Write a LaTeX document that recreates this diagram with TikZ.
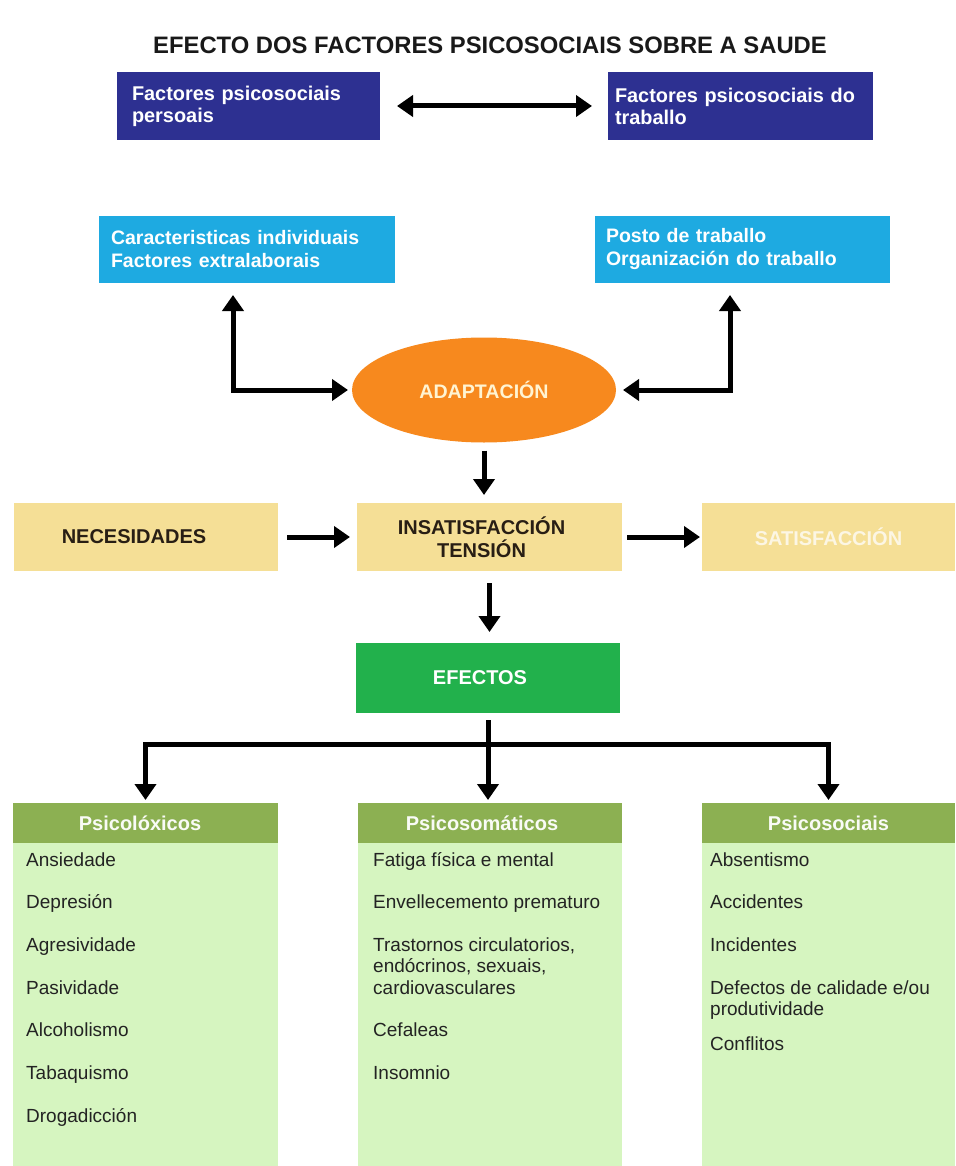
\documentclass[tikz,border=0pt]{standalone}
\usepackage{fontspec}
\setmainfont{Liberation Sans}
\usetikzlibrary{arrows.meta,shapes.geometric,calc,positioning}
\definecolor{navybox}{RGB}{45,48,145}
\definecolor{skybox}{RGB}{30,170,225}
\definecolor{orangeell}{RGB}{247,137,30}
\definecolor{sandbox}{RGB}{245,223,150}
\definecolor{greenbox}{RGB}{34,177,76}
\definecolor{olivehead}{RGB}{140,176,82}
\definecolor{mintbody}{RGB}{214,245,192}
\definecolor{darktext}{RGB}{40,30,20}
\definecolor{creamtext}{RGB}{255,244,210}
\definecolor{itemtext}{RGB}{35,35,35}
\definecolor{palesand}{RGB}{252,246,228}
\tikzset{
  fatarrow/.style={line width=5pt,-{Triangle[length=16pt,width=21pt]}},
  fatboth/.style={line width=5pt,{Triangle[length=16pt,width=21pt]}-{Triangle[length=16pt,width=21pt]}},
  titletext/.style={font=\bfseries\fontsize{23.8}{28}\selectfont,text=black!90},
  factorbox/.style={fill=navybox,text=white,font=\bfseries\fontsize{19.9}{22}\selectfont,align=left,minimum height=68pt,inner ysep=0pt,outer sep=0pt},
  detailbox/.style={fill=skybox,text=white,font=\bfseries\fontsize{19.5}{23}\selectfont,align=left,minimum height=67pt,inner ysep=0pt,outer sep=0pt},
  sandnode/.style={fill=sandbox,text=darktext,font=\bfseries\fontsize{20}{23}\selectfont,align=center,minimum height=68pt,inner sep=0pt,outer sep=0pt},
  colhead/.style={fill=olivehead,text=white!95!olivehead,font=\bfseries\fontsize{20}{24}\selectfont,minimum height=40pt,inner sep=0pt,outer sep=0pt},
  colbody/.style={fill=mintbody,minimum height=323pt,inner sep=0pt,outer sep=0pt},
  itemtext/.style={font=\fontsize{19}{22.5}\selectfont,text=itemtext,inner sep=0pt,anchor=base west}
}
\begin{document}
\begin{tikzpicture}[x=1pt,y=1pt]
\path[use as bounding box,fill=white] (0,0) rectangle (955,-1166);
\node[titletext] (title) at (490,-45) {EFECTO DOS FACTORES PSICOSOCIAIS SOBRE A SAUDE};
\node[factorbox,text width=233pt,inner xsep=15pt] (persoais) at (248.5,-106) {Factores psicosociais\\persoais};
\node[factorbox,text width=251pt,inner xsep=7pt] (traballo) at (740.5,-106) {Factores psicosociais do\\traballo};
\node[detailbox,text width=272pt,inner xsep=12pt] (indiv) at (247,-249.5) {Caracteristicas individuais\\Factores extralaborais};
\node[detailbox,text width=273pt,inner xsep=11pt] (posto) at (742.5,-249.5) {Posto de traballo\\Organización do traballo\\[-6pt]};
\node[ellipse,fill=orangeell,minimum width=264pt,minimum height=105pt,inner sep=0pt,outer sep=0pt,text=creamtext,font=\bfseries\fontsize{19.6}{24}\selectfont] (adapt) at (484,-390) {ADAPTACIÓN};
\node[sandnode,minimum width=264pt] (necesidades) at (146,-537) {NECESIDADES\kern24pt};
\node[sandnode,minimum width=265pt] (insat) at (489.5,-537) {INSATISFACCIÓN\kern16pt\\TENSIÓN\kern16pt};
\node[sandnode,minimum width=253pt,text=palesand] (satisf) at (828.5,-537) {SATISFACCIÓN};
\node[fill=greenbox,text=white,font=\bfseries\fontsize{20}{24}\selectfont,minimum width=264pt,minimum height=70pt,inner sep=0pt,outer sep=0pt] (efectos) at (488,-678) {EFECTOS\kern16pt};
\node[colhead,minimum width=265pt] (psicoloxicos) at (145.5,-823) {Psicolóxicos\kern11pt};
\node[colhead,minimum width=264pt] (psicosomaticos) at (490,-823) {Psicosomáticos\kern16pt};
\node[colhead,minimum width=253pt] (psicosociais) at (828.5,-823) {Psicosociais};
\node[colbody,minimum width=265pt,below=0pt of psicoloxicos] (loxbody) {};
\node[colbody,minimum width=264pt,below=0pt of psicosomaticos] (somabody) {};
\node[colbody,minimum width=253pt,below=0pt of psicosociais] (socbody) {};
\node[itemtext] (lox1) at (26,-866) {Ansiedade};
\node[itemtext] (lox2) at (26,-908.7) {Depresión};
\node[itemtext] (lox3) at (26,-951.4) {Agresividade};
\node[itemtext] (lox4) at (26,-994.1) {Pasividade};
\node[itemtext] (lox5) at (26,-1036.8) {Alcoholismo};
\node[itemtext] (lox6) at (26,-1079.5) {Tabaquismo};
\node[itemtext] (lox7) at (26,-1122.2) {Drogadicción};
\node[itemtext] (soma1) at (373,-866) {Fatiga física e mental};
\node[itemtext] (soma2) at (373,-908.7) {Envellecemento prematuro};
\node[itemtext] (soma3) at (373,-951.4) {Trastornos circulatorios,};
\node[itemtext] (soma3b) at (373,-972.7) {endócrinos, sexuais,};
\node[itemtext] (soma3c) at (373,-994.1) {cardiovasculares};
\node[itemtext] (soma4) at (373,-1036.8) {Cefaleas};
\node[itemtext] (soma5) at (373,-1079.5) {Insomnio};
\node[itemtext] (soc1) at (710,-866) {Absentismo};
\node[itemtext] (soc2) at (710,-908.7) {Accidentes};
\node[itemtext] (soc3) at (710,-951.4) {Incidentes};
\node[itemtext] (soc4) at (710,-994.1) {Defectos de calidade e/ou};
\node[itemtext] (soc4b) at (710,-1015.4) {produtividade};
\node[itemtext] (soc5) at (710,-1050) {Conflitos};
\draw[fatboth,shorten <=17pt,shorten >=16pt] (persoais) -- (traballo);
\draw[fatboth,shorten <=4pt,shorten >=12pt] (adapt.west) -| ($(indiv.south)+(-14,0)$);
\draw[fatboth,shorten <=7pt,shorten >=12pt] (adapt.east) -| ($(posto.south)+(-12.5,0)$);
\draw[fatarrow,shorten <=8pt,shorten >=8pt] (adapt.south) -- (adapt.south |- insat.north);
\draw[fatarrow,shorten <=9pt,shorten >=7pt] (necesidades) -- (insat);
\draw[fatarrow,shorten <=5pt,shorten >=2pt] (insat) -- (satisf);
\draw[fatarrow,shorten <=12pt,shorten >=11pt] (insat.south) -- (insat.south |- efectos.north);
\coordinate (fork) at ($(efectos.south)+(0,-31)$);
\draw[fatarrow,shorten <=7pt,shorten >=3pt] (efectos.south) -- (efectos.south |- psicosomaticos.north);
\draw[fatarrow,shorten >=3pt] (fork) -| (psicoloxicos.north);
\draw[fatarrow,shorten >=3pt] (fork) -| (psicosociais.north);
\end{tikzpicture}
\end{document}
